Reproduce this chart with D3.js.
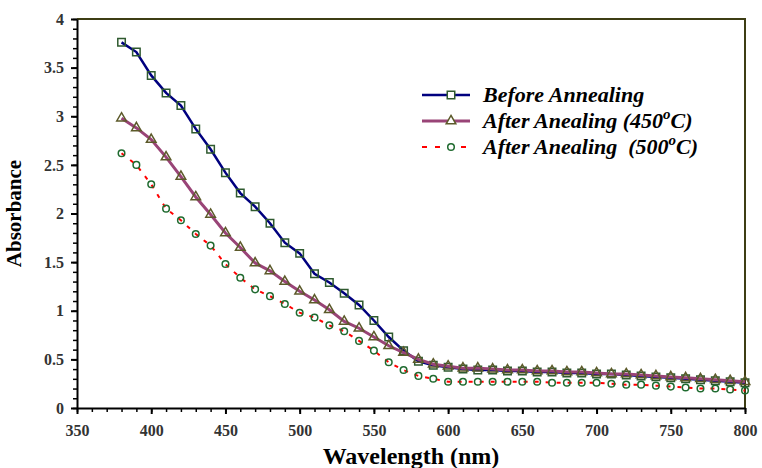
<!DOCTYPE html>
<html>
<head>
<meta charset="utf-8">
<script src="https://cdn.jsdelivr.net/npm/d3@7"></script>
<style>
  body { margin: 0; background: #fff; }
  svg { display: block; }
  text { font-family: "Liberation Serif", "Times New Roman", serif; }
</style>
</head>
<body>
<div id="chart"></div>
<script>
const wavelength = [380, 390, 400, 410, 420, 430, 440, 450, 460, 470, 480, 490, 500, 510, 520, 530, 540, 550, 560, 570, 580, 590,
  600, 610, 620, 630, 640, 650, 660, 670, 680, 690, 700, 710, 720, 730, 740, 750, 760, 770, 780, 790, 800]

const beforeAnnealing = [3.76, 3.66, 3.42, 3.24, 3.11, 2.87, 2.66, 2.42, 2.21, 2.07, 1.90, 1.70, 1.59, 1.38, 1.29, 1.18, 1.06, 0.90, 0.73, 0.59, 0.48, 0.44,
  0.42, 0.40, 0.39, 0.39, 0.38, 0.38, 0.37, 0.37, 0.36, 0.36, 0.35, 0.35, 0.34, 0.33, 0.32, 0.31, 0.30, 0.29, 0.28, 0.27, 0.26]

const after450 = [2.98, 2.88, 2.76, 2.58, 2.38, 2.17, 1.99, 1.80, 1.65, 1.49, 1.41, 1.30, 1.20, 1.11, 1.01, 0.89, 0.82, 0.73, 0.64, 0.57, 0.50, 0.45,
  0.43, 0.41, 0.41, 0.40, 0.39, 0.39, 0.38, 0.38, 0.37, 0.37, 0.36, 0.35, 0.35, 0.34, 0.33, 0.32, 0.31, 0.30, 0.29, 0.28, 0.27]

const after500 = [2.62, 2.50, 2.30, 2.05, 1.93, 1.79, 1.67, 1.48, 1.34, 1.22, 1.15, 1.07, 0.98, 0.93, 0.85, 0.79, 0.69, 0.59, 0.47, 0.39, 0.33, 0.30,
  0.27, 0.27, 0.27, 0.27, 0.27, 0.27, 0.27, 0.26, 0.26, 0.26, 0.26, 0.25, 0.24, 0.24, 0.23, 0.22, 0.21, 0.20, 0.20, 0.19, 0.18]

const xTicks = [350, 400, 450, 500, 550, 600, 650, 700, 750, 800]
const yTicks = [0, 0.5, 1, 1.5, 2, 2.5, 3, 3.5, 4]

const margin = { top: 19, right: 17, bottom: 60, left: 77 },
  width = 762 - margin.left - margin.right,
  height = 468 - margin.top - margin.bottom

const svg = d3.select("#chart")
  .append("svg")
    .attr("width", 762)
    .attr("height", 468)
  .append("g")
    .attr("transform", `translate(${margin.left},${margin.top})`)

const x = d3.scaleLinear().domain([350, 800]).range([0, width])
const y = d3.scaleLinear().domain([0, 4]).range([height, 0])

// frame on top and right
svg.append("path")
  .attr("d", `M0,0H${width}V${height}`)
  .attr("fill", "none")
  .attr("stroke", "#3d3d14")
  .attr("stroke-width", 2)

// minor ticks
svg.append("g")
  .attr("transform", `translate(0,${height})`)
  .call(d3.axisBottom(x).tickValues(d3.range(350, 801, 10)).tickSize(4).tickFormat(""))
  .call(g => g.select(".domain").remove())
  .selectAll("line").attr("stroke-width", 1.5)

svg.append("g")
  .call(d3.axisLeft(y).tickValues(d3.range(0, 40.5, 1).map(d => d / 10)).tickSize(4).tickFormat(""))
  .call(g => g.select(".domain").remove())
  .selectAll("line").attr("stroke-width", 1.5)

// major axes
const xAxis = svg.append("g")
  .attr("transform", `translate(0,${height})`)
  .call(d3.axisBottom(x).tickValues(xTicks).tickSize(6).tickPadding(11).tickSizeOuter(0))
xAxis.select(".domain").attr("stroke-width", 2)
xAxis.selectAll("line").attr("stroke-width", 2)
xAxis.selectAll("text")
  .attr("font-size", 16)
  .attr("font-weight", "bold")
  .attr("fill", "#333")

const yAxis = svg.append("g")
  .call(d3.axisLeft(y).tickValues(yTicks).tickFormat(d3.format("~g")).tickSize(6).tickPadding(7).tickSizeOuter(0))
yAxis.select(".domain").attr("stroke-width", 2)
yAxis.selectAll("line").attr("stroke-width", 2)
yAxis.selectAll("text")
  .attr("font-size", 16)
  .attr("font-weight", "bold")
  .attr("fill", "#333")

svg.append("text")
  .attr("x", width / 2)
  .attr("y", height + 56)
  .attr("text-anchor", "middle")
  .attr("font-size", 24)
  .attr("font-weight", "bold")
  .text("Wavelength (nm)")

svg.append("text")
  .attr("transform", "rotate(-90)")
  .attr("x", -height / 2)
  .attr("y", -56)
  .attr("text-anchor", "middle")
  .attr("font-size", 21)
  .attr("font-weight", "bold")
  .text("Absorbance")

const series = [
  { name: "Before Annealing", values: beforeAnnealing, color: "#00007f", width: 2.5, dash: null, marker: "square", mcolor: "#2f5a2f" },
  { name: "After Anealing (450", values: after450, color: "#994477", width: 3, dash: null, marker: "triangle", mcolor: "#5c5a2a" },
  { name: "After Anealing  (500", values: after500, color: "#ff0000", width: 2, dash: "4,7", marker: "circle", mcolor: "#1f6a2f" }
]

const line = d3.line()
  .x((d, i) => x(wavelength[i]))
  .y(d => y(d))

const symbolOf = {
  square: d3.symbol().type(d3.symbolSquare).size(56),
  triangle: d3.symbol().type(d3.symbolTriangle).size(40),
  circle: d3.symbol().type(d3.symbolCircle).size(34)
}

series.forEach(s => {
  svg.append("path")
    .datum(s.values)
    .attr("fill", "none")
    .attr("stroke", s.color)
    .attr("stroke-width", s.width)
    .attr("stroke-dasharray", s.dash)
    .attr("d", line)

  svg.append("g")
    .selectAll("path")
    .data(s.values)
    .join("path")
      .attr("transform", (d, i) => `translate(${x(wavelength[i])},${y(d)})`)
      .attr("d", symbolOf[s.marker])
      .attr("fill", "none")
      .attr("stroke", s.mcolor)
      .attr("stroke-width", 1.5)
})

// legend
const legend = svg.append("g")
  .attr("transform", "translate(345,76)")

series.forEach((s, i) => {
  const row = legend.append("g").attr("transform", `translate(0,${i * 26})`)
  row.append("line")
    .attr("x1", 0).attr("x2", 48)
    .attr("stroke", s.color)
    .attr("stroke-width", s.width)
    .attr("stroke-dasharray", s.dash ? "5,8" : null)
  row.append("path")
    .attr("transform", "translate(29,0)")
    .attr("d", symbolOf[s.marker])
    .attr("fill", "#fff")
    .attr("stroke", s.mcolor)
    .attr("stroke-width", 1.5)
  const t = row.append("text")
    .attr("x", 61)
    .attr("y", 7)
    .attr("font-size", 22)
    .attr("font-weight", "bold")
    .attr("font-style", "italic")
    .attr("xml:space", "preserve")
    .style("white-space", "pre")
  t.append("tspan").text(s.name)
  if (i > 0) {
    t.append("tspan").attr("dy", -9).attr("font-size", 15).text("o")
    t.append("tspan").attr("dy", 9).text("C)")
  }
})
</script>
</body>
</html>
